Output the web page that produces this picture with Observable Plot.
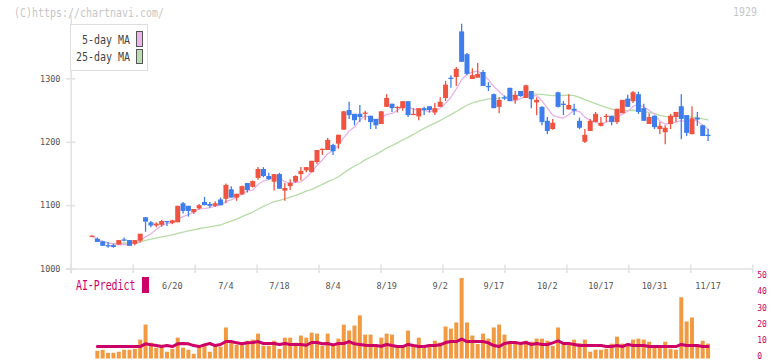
<!DOCTYPE html>
<html><head><meta charset="utf-8">
<script src="https://cdn.jsdelivr.net/npm/d3@7"></script>
<script src="https://cdn.jsdelivr.net/npm/@observablehq/plot@0.6"></script>
<style>
body{margin:0;background:#fff;}
#wrap{position:relative;width:772px;height:361px;overflow:hidden;background:#fff;font-family:"DejaVu Sans Mono",monospace;}
#wrap svg{position:absolute;left:0;top:0;}
.t{position:absolute;white-space:nowrap;line-height:1;}
</style></head><body>
<div id="wrap"></div>
<script>
// ---- data (j = trading day index, 0 = 5/30) ----
const opens  = [1050,1047,1043,1037,1037,1038,1046,1045,1039,1044,1081,1073,1068,1069,1075,1072,1073,1103,1099,1089,1095,1105,1102,1099,1109,1110,1125,1112,1117,1135,1129,1143,1157,1146,1137,1149,1123,1130,1137,1149,1155,1152,1168,1187,1187,1195,1197,1219,1250,1244,1244,1244,1241,1236,1228,1255,1260,1253,1253,1264,1242,1240,1253,1256,1246,1255,1269,1301,1302,1374,1338,1299,1301,1310,1288,1275,1255,1270,1285,1266,1280,1269,1280,1262,1255,1233,1220,1278,1260,1251,1252,1233,1200,1217,1231,1225,1239,1241,1231,1245,1268,1264,1275,1253,1228,1241,1220,1215,1228,1239,1256,1242,1212,1238,1226,1211];
const highs  = [1052,1049,1044,1042,1039,1045,1049,1045,1045,1055,1081,1075,1073,1077,1075,1077,1099,1105,1099,1094,1102,1113,1105,1106,1112,1134,1130,1118,1131,1135,1139,1160,1160,1151,1149,1151,1135,1141,1147,1160,1160,1170,1187,1189,1206,1197,1211,1249,1263,1244,1258,1249,1241,1236,1248,1275,1260,1256,1264,1264,1253,1253,1255,1256,1261,1270,1296,1305,1318,1386,1340,1316,1324,1313,1294,1276,1270,1273,1285,1280,1280,1290,1280,1270,1256,1239,1236,1279,1264,1275,1260,1238,1220,1236,1247,1239,1244,1241,1252,1266,1274,1280,1279,1260,1245,1241,1231,1226,1244,1247,1275,1242,1256,1247,1227,1220];
const lows   = [1050,1042,1036,1033,1033,1038,1043,1036,1037,1041,1058,1065,1065,1066,1067,1070,1073,1087,1082,1086,1093,1100,1096,1097,1100,1103,1112,1107,1116,1120,1128,1140,1144,1140,1123,1126,1107,1124,1135,1139,1152,1152,1165,1179,1187,1179,1189,1219,1236,1226,1231,1234,1220,1220,1228,1255,1247,1246,1249,1239,1242,1234,1242,1246,1242,1255,1264,1285,1288,1326,1305,1299,1301,1288,1280,1253,1245,1266,1264,1260,1271,1269,1253,1242,1226,1212,1219,1254,1242,1251,1242,1220,1198,1217,1231,1224,1231,1226,1228,1245,1255,1261,1244,1233,1228,1220,1212,1196,1220,1231,1204,1209,1212,1225,1209,1201];
const closes = [1052,1042,1036,1035,1034,1045,1044,1036,1045,1055,1074,1068,1071,1075,1073,1076,1099,1091,1091,1094,1100,1100,1099,1103,1100,1132,1112,1118,1130,1124,1138,1157,1146,1141,1149,1126,1127,1135,1146,1154,1160,1170,1187,1189,1203,1185,1211,1248,1242,1234,1239,1246,1231,1226,1248,1269,1253,1255,1264,1242,1244,1253,1250,1250,1253,1263,1290,1299,1315,1326,1307,1305,1307,1288,1286,1253,1266,1268,1264,1274,1272,1289,1267,1266,1231,1217,1230,1255,1258,1258,1249,1222,1211,1233,1244,1230,1241,1231,1252,1266,1255,1278,1247,1233,1239,1223,1225,1222,1241,1247,1236,1214,1237,1235,1209,1209];
// volume (x10k shares) and AI-Predict, from 6/2 (j = 1) to 11/17 (j = 115)
const volumes = [4.8,5.4,3.5,3.5,4.2,5.4,5.4,6.0,11.7,21,9.8,6.7,8.5,4.2,6.0,12.9,6.7,5.4,2.9,7.3,9.2,4.2,8.5,7.3,19.2,9.8,8.5,8.5,11,11.7,15.4,7.9,7.9,11,6.0,12.9,12.9,9.8,14.2,12.9,16,15.4,7.9,15.4,7.9,12.3,21,17.3,20.4,26.7,14.8,14.8,8.5,12.9,15.4,14.8,7.9,7.3,17.3,8.5,12.9,7.9,7.9,11,9.8,19.8,18.5,22.3,49.8,22.3,14.2,9,15.4,12.3,19.2,21,14.8,10.4,10.4,8.5,11,10.4,12.3,12.3,11,7.9,19.2,9,9.5,11.7,9.5,11.7,4.2,5.4,5.4,6,9.2,13.5,9.2,7.9,11.7,12.3,11.7,10.4,7.9,7.9,10.4,6,5.4,37.9,22.9,25.4,7.9,11,9.2];
const aiPredict = [7.7,7.7,7.7,7.7,7.7,7.7,7.7,7.7,7.7,9.4,8.75,8.3,7.7,8.3,7.7,9.4,9.6,9.4,8.3,7.7,8.75,9.6,8.3,9,10.8,10.8,10,9.4,10,10.2,10.8,9.6,9.6,9.6,9,9.6,9,9,9,8.5,10.2,10.2,9.4,9.6,8.75,9.6,9.6,10.8,9.4,9,8.5,8.3,8.3,7.9,9,8.3,7.7,7.7,9,8.3,7.7,7.7,8.3,8.3,8.75,10.2,10.8,10.8,12.3,10.8,10.8,10.8,10.8,10,8.3,7.7,9.6,10.2,10.2,9.6,10.2,9,9.6,9,9,10,11.2,9.6,9.6,9,8.3,8.3,8.3,8.3,8.3,7.7,7.7,8.3,7.7,9,8.3,8.3,8.3,7.7,7.7,7.7,7.7,7.7,7.7,9,8.3,8.3,8.3,7.7,7.7];
const dateLabels = ["6/20","7/4","7/18","8/4","8/19","9/2","9/17","10/2","10/17","10/31","11/17"];
const dateIndex  = [15,25,35,45,55,65,75,85,95,105,115];
const priceTicks = [1000,1100,1200,1300];
const volTicks   = [0,10,20,30,40,50];

// ---- build ----
const candles = opens.map((o, j) => ({j, o, h: highs[j], l: lows[j], c: closes[j]}));
const upC = candles.filter(d => d.c >= d.o), dnC = candles.filter(d => d.c < d.o);
const vol = volumes.map((v, k) => ({j: k + 1, v, ai: aiPredict[k]}));
const RED = "#f0533f", BLUE = "#3e7ded", AX = "#e1e1e1";
const xDom = [-3.88, 123.35];
const grid = d3.range(12).map(i => xDom[0] + i * (xDom[1] - xDom[0]) / 11);
const common = {width: 772, height: 361, marginLeft: 70.7, marginRight: 19.7,
  style: "position:absolute;left:0;top:0;background:transparent;overflow:visible;font-family:'DejaVu Sans Mono',monospace"};

const volPlot = Plot.plot({
  ...common, marginTop: 277.7, marginBottom: 2.5,
  x: {domain: xDom, axis: null}, y: {domain: [0, 50], axis: null},
  marks: [
    Plot.ruleX(vol, {x: "j", y1: 0, y2: "v", stroke: "#f29a42", strokeWidth: 4}),
    Plot.line(vol, {x: "j", y: "ai", stroke: "#cc0066", strokeWidth: 3}),
    Plot.axisY({anchor: "right", ticks: volTicks, tickSize: 0, tickPadding: 4.5, fontSize: 8, dy: -2.5, color: "#cc0066", label: null}),
    Plot.text(dateIndex, {x: d => d, frameAnchor: "top", dy: 4.5, text: (d, i) => dateLabels[i], fill: "#555", fontSize: 8.5})
  ]
});

const pricePlot = Plot.plot({
  ...common, marginTop: 14.9, marginBottom: 92.4,
  x: {domain: xDom, axis: null}, y: {domain: [1000, 1400], axis: null},
  marks: [
    Plot.ruleX([xDom[0]], {stroke: AX, strokeWidth: 1.5, insetBottom: -5}),
    Plot.ruleY([1000], {stroke: AX, strokeWidth: 1.5, insetLeft: -5}),
    Plot.axisX({ticks: grid, tickFormat: () => "", tickSize: 8.5, dy: -4, stroke: AX, strokeWidth: 1.5, label: null}),
    Plot.axisY({ticks: priceTicks, tickFormat: () => "", tickSize: 9, dx: 4.5, stroke: AX, strokeWidth: 1.5, label: null}),
    Plot.axisY({ticks: priceTicks, tickFormat: d3.format("d"), tickSize: 0, tickPadding: 10.7, fontSize: 8.5, fill: "#555", label: null}),
    Plot.lineY(candles, Plot.windowY({k: 25, anchor: "end"}, {x: "j", y: "c", stroke: "#b6dca8", strokeWidth: 1.3})),
    Plot.lineY(candles, Plot.windowY({k: 5, anchor: "end"}, {x: "j", y: "c", stroke: "#e9b2e9", strokeWidth: 1.3})),
    Plot.ruleX(upC, {x: "j", y1: "l", y2: "h", stroke: RED, strokeWidth: 1.3}),
    Plot.ruleX(dnC, {x: "j", y1: "l", y2: "h", stroke: BLUE, strokeWidth: 1.3}),
    Plot.ruleX(upC, {x: "j", y1: "o", y2: "c", stroke: RED, strokeWidth: 5}),
    Plot.ruleX(dnC, {x: "j", y1: "o", y2: "c", stroke: BLUE, strokeWidth: 5})
  ]
});

const wrap = document.getElementById("wrap");
wrap.appendChild(volPlot);
wrap.appendChild(pricePlot);

function addText(txt, css) {
  const el = document.createElement("div");
  el.className = "t"; el.textContent = txt; el.style.cssText += css;
  wrap.appendChild(el); return el;
}
addText("(C)https://chartnavi.com/", "left:14px;top:6.5px;font-size:12px;color:#c6c6c6;transform:scaleX(0.83);transform-origin:0 0;");
addText("1929", "left:733px;top:6px;font-size:12px;color:#c6c6c6;transform:scaleX(0.83);transform-origin:0 0;");
// legend
const box = document.createElement("div");
box.style.cssText = "position:absolute;left:70px;top:24px;width:76px;height:45px;border:1.5px solid #dedede;background:#fff;";
wrap.appendChild(box);
addText("5-day MA", "left:81.5px;top:33.5px;font-size:12px;color:#444;transform:scaleX(0.83);transform-origin:0 0;");
addText("25-day MA", "left:75.5px;top:51px;font-size:12px;color:#444;transform:scaleX(0.83);transform-origin:0 0;");
const sw1 = document.createElement("div");
sw1.style.cssText = "position:absolute;left:136.3px;top:31.3px;width:4.6px;height:13.6px;border:1px solid #555;background:#eab6ea;";
wrap.appendChild(sw1);
const sw2 = document.createElement("div");
sw2.style.cssText = "position:absolute;left:136.3px;top:48.7px;width:4.6px;height:13px;border:1px solid #555;background:#bcdcb0;";
wrap.appendChild(sw2);
// AI-Predict label
addText("AI-Predict", "left:75.5px;top:279px;font-size:13.5px;color:#cc0066;transform:scaleX(0.73);transform-origin:0 0;");
const mk = document.createElement("div");
mk.style.cssText = "position:absolute;left:142px;top:277px;width:7px;height:15.7px;background:#cc0066;";
wrap.appendChild(mk);
</script>
</body></html>
